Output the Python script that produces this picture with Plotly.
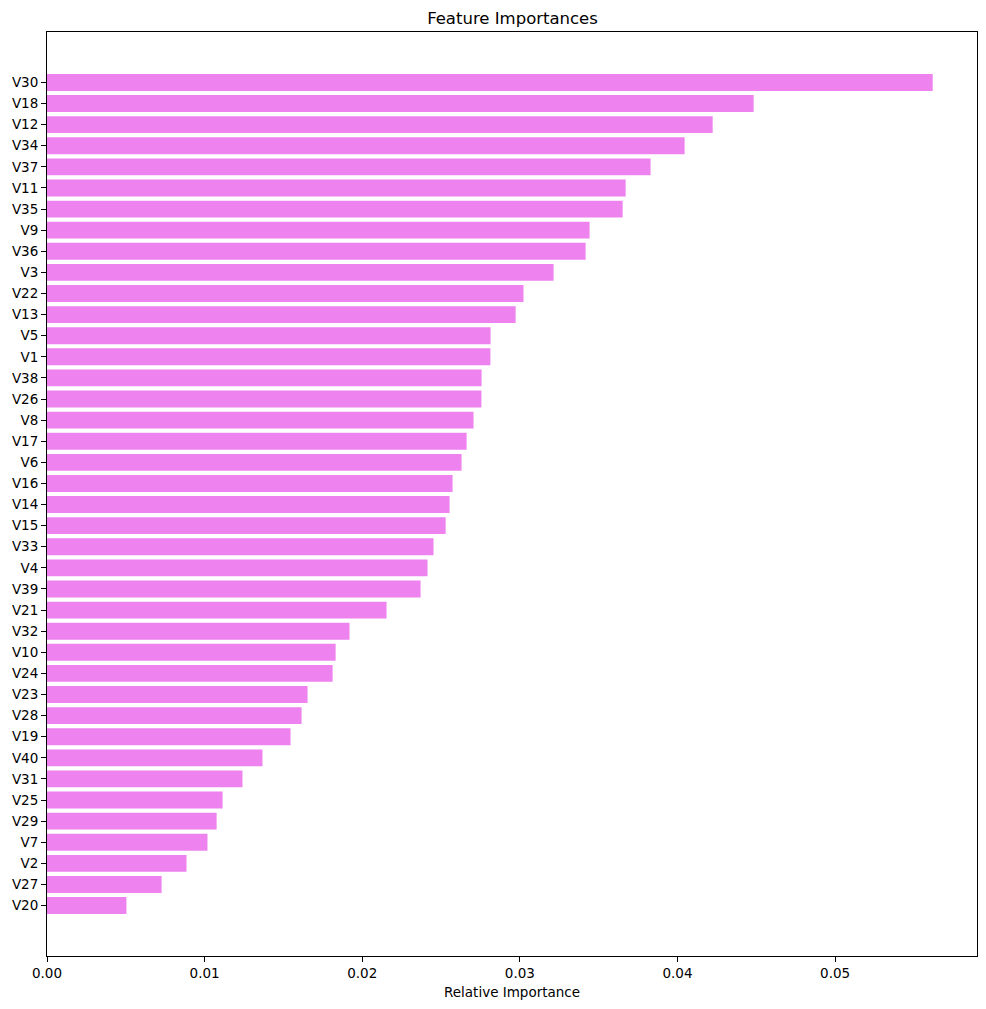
import plotly.graph_objects as go

# features sorted by importance (smallest first so largest ends up on top)
features = ['V20', 'V27', 'V2', 'V7', 'V29', 'V25', 'V31', 'V40', 'V19', 'V28',
            'V23', 'V24', 'V10', 'V32', 'V21', 'V39', 'V4', 'V33', 'V15', 'V14',
            'V16', 'V6', 'V17', 'V8', 'V26', 'V38', 'V1', 'V5', 'V13', 'V22',
            'V3', 'V36', 'V9', 'V35', 'V11', 'V37', 'V34', 'V12', 'V18', 'V30']
importances = [0.00504, 0.00727, 0.00885, 0.01018, 0.01076, 0.01114, 0.01240, 0.01367, 0.01545, 0.01615,
               0.01653, 0.01812, 0.01831, 0.01919, 0.02154, 0.02370, 0.02414, 0.02452, 0.02529, 0.02554,
               0.02573, 0.02630, 0.02662, 0.02706, 0.02756, 0.02757, 0.02813, 0.02814, 0.02973, 0.03023,
               0.03214, 0.03417, 0.03442, 0.03652, 0.03671, 0.03829, 0.04045, 0.04223, 0.04483, 0.05619]

fig = go.Figure()

#barras horizontais
fig.add_trace(go.Bar(x=importances, y=features, orientation='h',
                     marker=dict(color='violet', line=dict(width=0)), width=0.8))

n = len(features)
# a página tem 8px de margem no body, por isso a figura é 16px menor
fig.update_layout(
    width=970, height=993,
    margin=dict(l=39, r=1, t=24, b=45),
    plot_bgcolor='white', paper_bgcolor='white',
    font=dict(family='DejaVu Sans', size=13.5, color='black'),
    showlegend=False,
    title={
        'text': 'Feature Importances',
        'font': {'size': 16.5},
        'x': 504.5 / 970, 'xanchor': 'center',
        'y': 1 - 10 / 993, 'yanchor': 'middle', 'yref': 'container'},
    #rótulo do eixo x como anotação
    annotations=[dict(text='Relative Importance', x=0.5, y=-36 / 924,
                      xref='paper', yref='paper', xanchor='center', yanchor='middle',
                      showarrow=False, font=dict(size=13.5))])

fig.update_xaxes(range=[0, max(importances) * 1.05], dtick=0.01, tickformat='.2f',
                 showgrid=False, zeroline=False, automargin=False,
                 showline=True, mirror=True, linecolor='black', linewidth=1,
                 ticks='outside', ticklen=5, tickcolor='black')
fig.update_yaxes(range=[-0.4 - 0.05 * (n - 0.2), n - 0.6 + 0.05 * (n - 0.2)],
                 showgrid=False, zeroline=False, automargin=False,
                 showline=True, mirror=True, linecolor='black', linewidth=1,
                 ticks='outside', ticklen=5, tickcolor='black')

fig.write_html("out.html")
